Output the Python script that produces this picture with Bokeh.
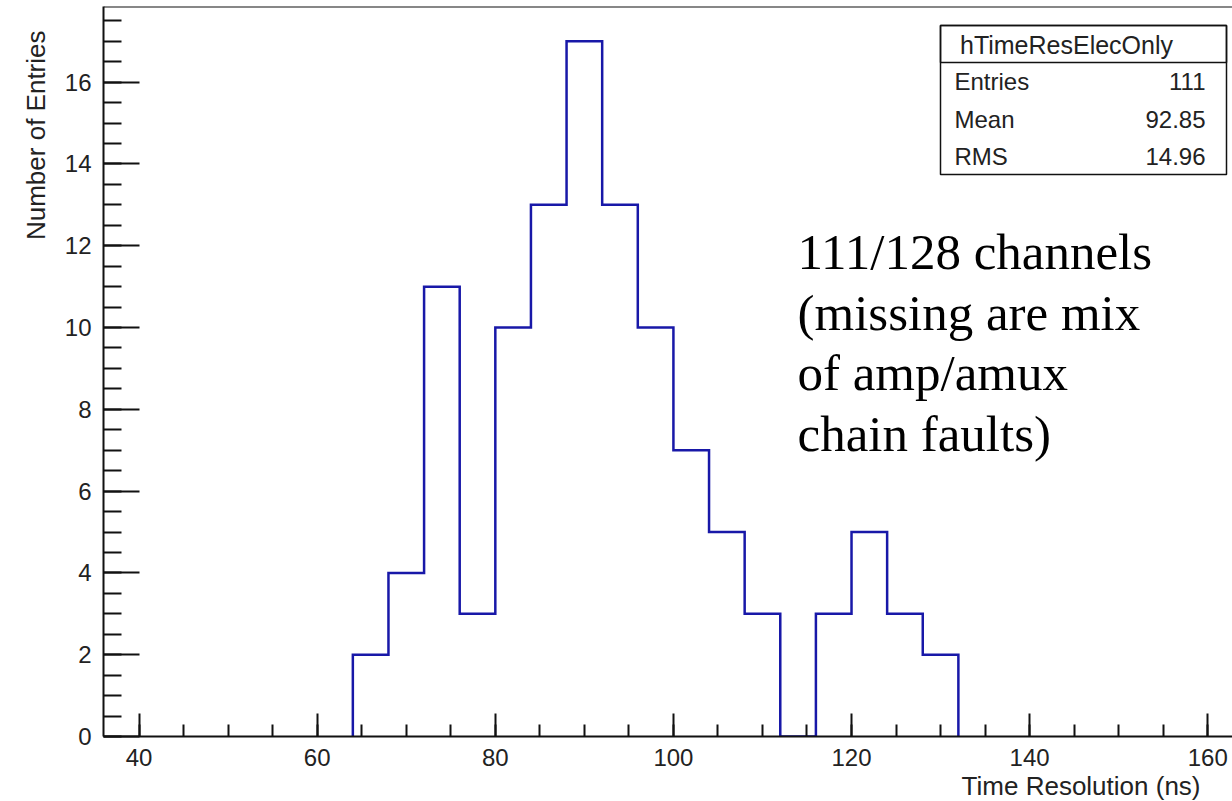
import math
from bokeh.plotting import figure
from bokeh.models import Range1d, FixedTicker, LinearAxis, Label, BoxAnnotation, Span, Title
from bokeh.embed import file_html
from bokeh.resources import INLINE

# ---------------- data ----------------
bin_low = [64, 68, 72, 76, 80, 84, 88, 92, 96, 100, 104, 108, 112, 116, 120, 124, 128]
counts = [2, 4, 11, 3, 10, 13, 17, 13, 10, 7, 5, 3, 0, 3, 5, 3, 2]
bin_width = 4

x_major_ticks = [40, 60, 80, 100, 120, 140, 160]
x_minor_ticks = [40, 45, 50, 55, 60, 65, 70, 75, 80, 85, 90, 95, 100, 105, 110, 115,
                 120, 125, 130, 135, 140, 145, 150, 155, 160]
y_major_ticks = [0, 2, 4, 6, 8, 10, 12, 14, 16]
y_minor_ticks = [i * 0.5 for i in range(0, 36)]

hist_name = "hTimeResElecOnly"
stat_names = ["Entries", "Mean", "RMS"]
stat_values = ["111", "92.85", "14.96"]
note_lines = ["111/128 channels", "(missing are mix", "of amp/amux", "chain faults)"]
x_title = "Time Resolution (ns)"
y_title = "Number of Entries"

# ---------------- layout ----------------
W, H = 1232, 801
FL, FR, FT, FB = 103, 1232, 6, 736
X_START = 36.0
X_END = X_START + (FR - FL) / 8.905
Y_START, Y_END = 0.0, 17.85


def dx(px):
    return X_START + (px - FL) * (X_END - X_START) / (FR - FL)


def dy(py):
    return Y_START + (FB - py) * (Y_END - Y_START) / (FB - FT)


p = figure(width=W, height=H, output_backend="svg", toolbar_location=None,
           x_range=Range1d(X_START, X_END), y_range=Range1d(Y_START, Y_END),
           min_border_left=FL, min_border_right=0, min_border_top=FT,
           min_border_bottom=H - FB, x_axis_type=None, y_axis_type=None)
p.grid.visible = False
p.outline_line_color = None
p.background_fill_color = "white"
p.border_fill_color = "white"

AX_COL = "#111111"
TXT_COL = "#222222"
FONT = "Liberation Sans"

xaxis = LinearAxis(ticker=FixedTicker(ticks=x_major_ticks, minor_ticks=x_minor_ticks))
xaxis.axis_line_width = 2
xaxis.axis_line_color = AX_COL
xaxis.major_tick_line_width = 2
xaxis.minor_tick_line_width = 2
xaxis.major_tick_line_color = AX_COL
xaxis.minor_tick_line_color = AX_COL
xaxis.major_tick_in = 23
xaxis.major_tick_out = 0
xaxis.minor_tick_in = 12
xaxis.minor_tick_out = 0
xaxis.major_label_text_font = FONT
xaxis.major_label_text_font_size = "24px"
xaxis.major_label_text_color = TXT_COL
xaxis.major_label_standoff = 12
p.add_layout(xaxis, "below")

yaxis = LinearAxis(ticker=FixedTicker(ticks=y_major_ticks, minor_ticks=y_minor_ticks))
yaxis.axis_line_width = 2
yaxis.axis_line_color = AX_COL
yaxis.major_tick_line_width = 2
yaxis.minor_tick_line_width = 2
yaxis.major_tick_line_color = AX_COL
yaxis.minor_tick_line_color = AX_COL
yaxis.major_tick_in = 36
yaxis.major_tick_out = 0
yaxis.minor_tick_in = 18
yaxis.minor_tick_out = 0
yaxis.major_label_text_font = FONT
yaxis.major_label_text_font_size = "24px"
yaxis.major_label_text_color = TXT_COL
yaxis.major_label_standoff = 12
p.add_layout(yaxis, "left")

# axis titles as Titles (alignable)
p.add_layout(Title(text=x_title, align="right", offset=32, standoff=0,
                   text_font=FONT, text_font_size="26px", text_font_style="normal",
                   text_color=TXT_COL), "below")
p.add_layout(Title(text=y_title, align="right", offset=24, standoff=22,
                   vertical_align="bottom",
                   text_font=FONT, text_font_size="26px", text_font_style="normal",
                   text_color=TXT_COL), "left")

# top frame line
p.add_layout(Span(location=Y_END, dimension="width", line_color=AX_COL, line_width=2))

# ---------------- histogram outline ----------------
xs = [bin_low[0]]
ys = [0]
for lo, c in zip(bin_low, counts):
    xs += [lo, lo + bin_width]
    ys += [c, c]
xs.append(bin_low[-1] + bin_width)
ys.append(0)
p.line(xs, ys, line_color="#1818a8", line_width=2.5, line_join="miter")

# ---------------- stats box ----------------
p.add_layout(BoxAnnotation(left=dx(940), right=dx(1226), top=dy(25), bottom=dy(174),
                           fill_color="white", fill_alpha=1.0, line_color=AX_COL,
                           line_alpha=1.0, line_width=1.5, level="annotation"))
p.add_layout(BoxAnnotation(left=dx(940), right=dx(1226), top=dy(25), bottom=dy(62),
                           fill_alpha=0.0, line_color=AX_COL, line_alpha=1.0,
                           line_width=1.5, level="annotation"))

p.add_layout(Label(x=dx(1066), y=dy(44), text=hist_name, text_align="center",
                   text_baseline="middle", text_font=FONT, text_font_size="25px",
                   text_color=TXT_COL, level="annotation"))
row_py = [81, 119, 156]
for name, val, py in zip(stat_names, stat_values, row_py):
    p.add_layout(Label(x=dx(954), y=dy(py), text=name, text_align="left",
                       text_baseline="middle", text_font=FONT, text_font_size="24px",
                       text_color=TXT_COL, level="annotation"))
    p.add_layout(Label(x=dx(1205), y=dy(py), text=val, text_align="right",
                       text_baseline="middle", text_font=FONT, text_font_size="24px",
                       text_color=TXT_COL, level="annotation"))

# ---------------- note ----------------
note_py = [251, 312, 372, 433]
for line, py in zip(note_lines, note_py):
    p.add_layout(Label(x=dx(797), y=dy(py), text=line, text_align="left",
                       text_baseline="alphabetic", text_font="Liberation Serif",
                       text_font_size="51px", text_color="black"))

open("out.html", "w").write(file_html(p, INLINE))
